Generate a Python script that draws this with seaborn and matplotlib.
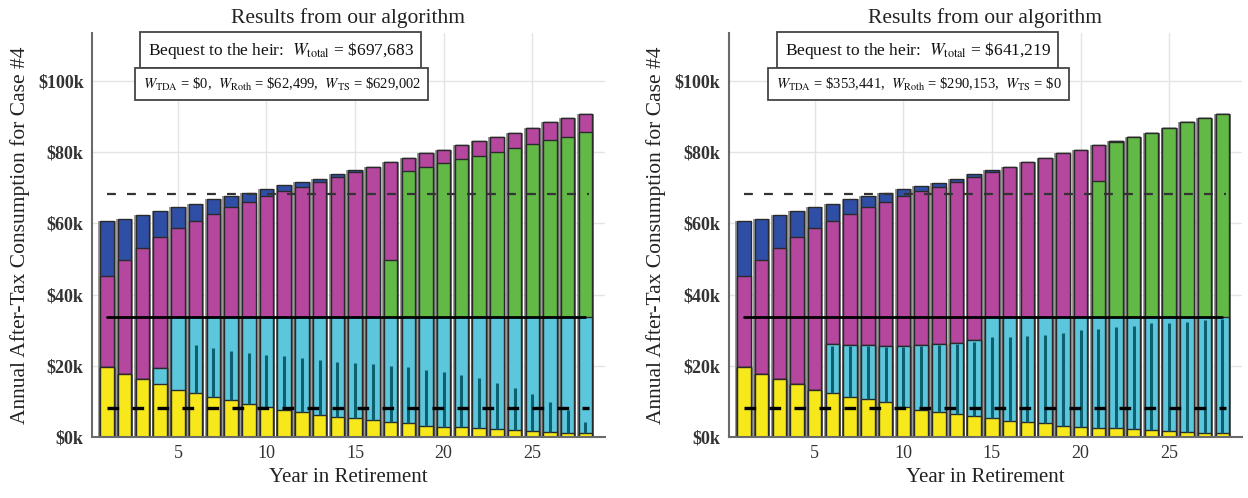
import numpy as np
import matplotlib
matplotlib.use("Agg")
import matplotlib.pyplot as plt
import seaborn as sns

# values in $k, years 1..28
years = list(range(1, 29))

# left panel
yellow_L = [19.7, 17.6, 16.3, 14.9, 13.2, 12.3, 11.1, 10.4, 9.4, 8.3, 7.6, 6.9, 6.2, 5.5,
            5.2, 4.7, 4.3, 3.8, 3.2, 2.9, 2.7, 2.6, 2.3, 2.0, 1.6, 1.4, 1.1, 1.1]
cyan_L = [0, 0, 0, 4.4, 20.6, 21.5, 22.7, 23.4, 24.4, 25.5, 26.2, 26.9, 27.6, 28.3,
          28.6, 29.1, 29.5, 30.0, 30.6, 30.9, 31.1, 31.2, 31.5, 31.8, 32.2, 32.4, 32.7, 32.7]
green_L = [0, 0, 0, 0, 0, 0, 0, 0, 0, 0, 0, 0, 0, 0,
           0, 0, 15.9, 41.0, 42.1, 43.3, 44.2, 45.2, 46.3, 47.5, 48.5, 49.6, 50.6, 52.0]
magenta_L = [25.5, 32.1, 36.9, 37.0, 24.8, 27.0, 29.0, 30.9, 32.3, 33.9, 35.3, 36.5, 37.9, 39.3,
             40.6, 42.0, 27.6, 3.5, 3.8, 3.5, 4.0, 4.2, 4.1, 4.0, 4.6, 5.0, 5.3, 5.1]
blue_L = [15.6, 11.7, 9.2, 7.2, 6.1, 4.8, 4.0, 3.0, 2.6, 1.9, 1.6, 1.3, 0.8, 0.8,
          0.6, 0, 0, 0, 0, 0, 0, 0, 0, 0, 0, 0, 0, 0]
teal_years = list(range(6, 29))
teal_L = [25.8, 24.9, 24.2, 23.7, 23.0, 22.8, 22.1, 21.6, 21.2, 20.7, 20.5, 19.9, 19.6,
          18.8, 18.2, 17.4, 16.5, 15.1, 13.7, 12.0, 9.9, 7.6, 4.3]

# right panel
yellow_R = [19.7, 17.6, 16.3, 14.8, 13.2, 12.5, 11.3, 10.6, 9.7, 8.3, 7.7, 7.1, 6.4, 5.8,
            5.2, 4.6, 4.1, 3.8, 3.2, 2.9, 2.6, 2.5, 2.3, 2.0, 1.6, 1.4, 1.1, 1.1]
cyan_R = [0, 0, 0, 0, 0, 13.5, 14.5, 15.2, 16.0, 17.4, 18.1, 19.0, 20.0, 21.4,
          28.6, 29.2, 29.7, 30.0, 30.6, 30.9, 31.2, 31.3, 31.5, 31.8, 32.2, 32.4, 32.7, 32.7]
green_R = [0, 0, 0, 0, 0, 0, 0, 0, 0, 0, 0, 0, 0, 0,
           0, 0, 0, 0, 0, 0, 38.2, 49.2, 50.4, 51.5, 53.1, 54.6, 55.9, 57.1]
magenta_R = [25.5, 32.0, 36.9, 41.5, 45.4, 34.8, 37.0, 38.9, 40.4, 42.0, 43.3, 44.1, 45.3, 45.9,
             40.6, 42.0, 43.5, 44.5, 45.9, 46.8, 10.0, 0.2, 0, 0, 0, 0, 0, 0]
blue_R = [15.6, 11.8, 9.2, 7.3, 6.1, 4.8, 4.0, 3.0, 2.6, 1.9, 1.4, 1.3, 0.7, 0.8,
          0.6, 0, 0, 0, 0, 0, 0, 0, 0, 0, 0, 0, 0, 0]
teal_R = [25.6, 25.5, 25.5, 25.4, 25.4, 25.5, 25.8, 26.1, 26.6, 28.2, 28.2, 28.5, 28.8,
          29.1, 30.2, 30.3, 31.0, 31.3, 31.9, 32.1, 32.4, 32.9, 33.3]

guide_upper = 68.4
guide_mid = 33.8
guide_lower = 8.2

texts_L = [r"Bequest to the heir:  $W_{\mathrm{total}}$ = \$697,683",
           r"$W_{\mathrm{TDA}}$ = \$0,  $W_{\mathrm{Roth}}$ = \$62,499,  $W_{\mathrm{TS}}$ = \$629,002"]
texts_R = [r"Bequest to the heir:  $W_{\mathrm{total}}$ = \$641,219",
           r"$W_{\mathrm{TDA}}$ = \$353,441,  $W_{\mathrm{Roth}}$ = \$290,153,  $W_{\mathrm{TS}}$ = \$0"]

c_yellow = "#f7e81c"
c_cyan = "#5cc6dd"
c_green = "#62b946"
c_magenta = "#b5479f"
c_blue = "#2f4fa6"
c_gray = "#9a9a9a"
c_teal = "#0b5f6e"

sns.set_theme(style="whitegrid")
plt.rcParams["font.family"] = ["Liberation Serif", "DejaVu Serif"]
plt.rcParams["mathtext.fontset"] = "stix"

fig = plt.figure(figsize=(12.48, 4.98), dpi=100)
ax_L = fig.add_axes([0.0737, 0.1225, 0.411, 0.811])
ax_R = fig.add_axes([0.584, 0.1225, 0.411, 0.811])


def draw_panel(ax, yellow, cyan, green, magenta, blue, teal, texts):
    c1 = np.array(yellow)
    c2 = c1 + np.array(cyan)
    c3 = c2 + np.array(green)
    c4 = c3 + np.array(magenta)
    c5 = c4 + np.array(blue)

    # gray backing bars
    sns.barplot(x=years, y=c5, native_scale=True, width=0.97, color=c_gray,
                saturation=1, linewidth=0, errorbar=None, ax=ax)
    # stacked layers, drawn from the top down
    for cum, col in [(c5, c_blue), (c4, c_magenta), (c3, c_green), (c2, c_cyan), (c1, c_yellow)]:
        sns.barplot(x=years, y=cum, native_scale=True, width=0.76, color=col,
                    saturation=1, edgecolor="#2a2a2a", linewidth=1.0, errorbar=None, ax=ax)

    # thin dark bars inside the cyan part
    bottoms = [c1[y - 1] for y in teal_years]
    ax.vlines(teal_years, bottoms, teal, color=c_teal, lw=2.2, zorder=3)

    ax.plot([1, 28], [guide_mid, guide_mid], color="black", lw=2, zorder=4)
    ax.plot([1, 28.2], [guide_upper, guide_upper], color="#333333", lw=1.6,
            ls=(0, (4, 5)), zorder=4)
    ax.plot([1, 28.2], [guide_lower, guide_lower], color="black", lw=2.4,
            ls=(0, (3.5, 4)), zorder=4)

    ax.set_xlim(0.15, 29.1)
    ax.set_ylim(0, 113.5)
    ax.set_xticks([5, 10, 15, 20, 25])
    ax.set_xticklabels(["5", "10", "15", "20", "25"], fontsize=13, color="#333333")
    ax.set_yticks([0, 20, 40, 60, 80, 100])
    ax.set_yticklabels([r"\$%dk" % v for v in [0, 20, 40, 60, 80, 100]],
                       fontsize=13, color="#333333", fontweight="bold")
    ax.grid(True, color="#e4e4e4", lw=1)
    ax.set_axisbelow(True)
    sns.despine(ax=ax)
    for s in ["left", "bottom"]:
        ax.spines[s].set_color("#6a6a6a")
        ax.spines[s].set_linewidth(1.5)
    ax.tick_params(axis="y", direction="in", length=4, color="#6a6a6a", pad=6)
    ax.tick_params(axis="x", length=0, pad=6)

    ax.set_title("Results from our algorithm", fontsize=15.5, pad=7, color="#222222")
    ax.set_xlabel("Year in Retirement", fontsize=15, color="#222222", labelpad=4)
    ax.set_ylabel("Annual After-Tax Consumption for Case #4", fontsize=15.5,
                  color="#222222", labelpad=6)

    ax.text(0.368, 0.958, texts[0], transform=ax.transAxes, ha="center", va="center",
            fontsize=12.5, color="#111111", zorder=6,
            bbox=dict(boxstyle="square,pad=0.42", fc="white", ec="#444444", lw=1.3))
    ax.text(0.37, 0.874, texts[1], transform=ax.transAxes, ha="center", va="center",
            fontsize=10.5, color="#111111", zorder=6,
            bbox=dict(boxstyle="square,pad=0.5", fc="white", ec="#444444", lw=1.3))


draw_panel(ax_L, yellow_L, cyan_L, green_L, magenta_L, blue_L, teal_L, texts_L)
draw_panel(ax_R, yellow_R, cyan_R, green_R, magenta_R, blue_R, teal_R, texts_R)

fig.savefig("out.png", dpi=100)
